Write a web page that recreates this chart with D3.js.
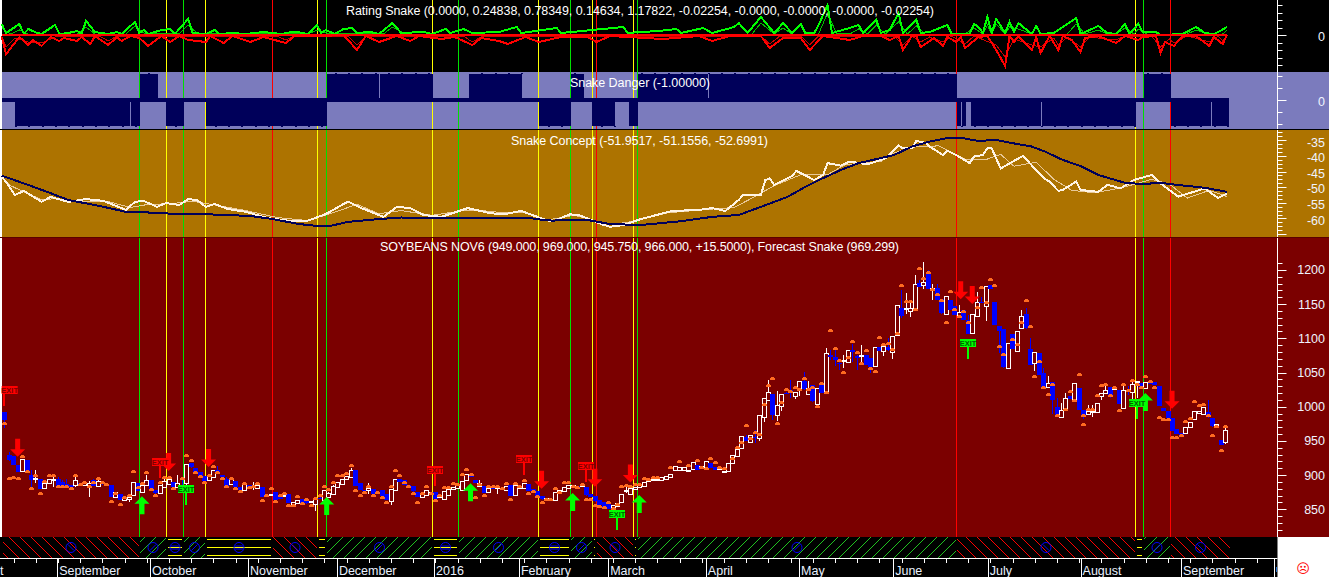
<!DOCTYPE html>
<html>
<head>
<meta charset="utf-8">
<script src="https://cdn.jsdelivr.net/npm/d3@7/dist/d3.min.js"></script>
<style>
  html, body { margin: 0; padding: 0; background: #000; overflow: hidden; }
  svg { display: block; }
  text { font-family: "Liberation Sans", Arial, sans-serif; }
</style>
</head>
<body>
<div id="chart"></div>
<script>
//Width and height
var width = 1329;
var height = 577;

// Daily bars, ten to a line
var opens = [
  992,929,928,915,906,922,900,895,894,881,
  889,894,894,890,887,885,886,888,885,886,
  893,885,888,887,886,868,873,864,865,871,
  889,876,886,893,878,874,882,888,890,883,
  885,888,917,911,905,899,893,898,908,900,
  895,886,891,883,878,885,882,880,883,871,
  870,875,868,869,873,857,860,865,863,860,
  857,867,864,868,872,883,887,893,898,908,
  888,878,878,880,873,878,872,861,878,895,
  893,885,884,875,868,870,874,875,867,866,
  871,880,881,879,892,901,893,883,884,875,
  883,880,881,878,885,870,882,881,887,880,
  877,869,866,864,863,876,876,881,883,884,
  884,882,873,869,863,860,861,851,855,861,
  876,872,880,883,884,891,892,893,893,895,
  897,907,908,908,906,909,915,910,911,917,
  912,908,905,907,919,928,939,956,949,955,
  955,984,1009,1019,987,1001,1020,1024,1016,1024,
  1037,1018,1031,1004,1033,1020,1075,1073,1064,1068,
  1066,1083,1074,1075,1075,1071,1060,1087,1082,1087,
  1080,1104,1145,1143,1139,1143,1181,1177,1195,1172,
  1174,1157,1136,1156,1147,1135,1141,1127,1107,1133,
  1153,1148,1178,1153,1118,1113,1057,1107,1082,1115,
  1135,1084,1064,1078,1049,1028,1036,999,985,995,
  1016,1007,1028,995,989,993,993,1015,1019,1029,
  1027,1025,999,1025,1022,1036,1034,1027,1036,1036,
  1030,998,994,984,968,961,962,970,983,991,
  990,992,983,973,952,949
];
var closes = [
  980,921,915,905,923,905,893,896,880,888,
  895,895,884,884,884,882,893,884,888,889,
  884,892,886,884,868,876,864,868,868,890,
  878,886,893,879,873,886,891,895,882,889,
  883,916,911,905,899,892,900,908,903,897,
  885,894,882,878,887,881,884,885,869,870,
  872,864,865,871,860,861,864,859,858,862,
  865,866,878,874,884,890,895,898,908,884,
  878,877,881,872,875,869,863,879,894,890,
  885,881,876,868,873,878,876,865,869,877,
  880,883,885,892,901,897,888,888,874,881,
  880,882,878,884,869,885,883,888,877,876,
  869,864,867,865,875,878,882,885,885,883,
  885,870,869,861,856,853,851,856,859,872,
  878,881,883,886,890,893,894,895,897,899,
  902,913,912,912,908,919,907,913,921,910,
  907,910,906,918,930,938,957,950,959,953,
  988,1012,1021,988,1002,1019,1018,1019,1022,1037,
  1025,1027,1007,1028,1020,1078,1072,1068,1062,1069,
  1083,1080,1071,1076,1061,1058,1088,1081,1089,1082,
  1103,1148,1134,1144,1144,1180,1175,1182,1172,1173,
  1156,1136,1162,1141,1134,1139,1127,1106,1135,1153,
  1151,1177,1172,1119,1110,1057,1093,1085,1111,1132,
  1114,1061,1080,1046,1028,1034,1010,985,995,1012,
  1011,1034,996,987,994,994,1006,1020,1024,1017,
  1028,1005,1025,1023,1033,1037,1028,1036,1033,1032,
  1001,993,984,965,961,958,971,978,994,994,
  1000,984,971,975,945,966
];
var highs = [
  992,934,928,915,923,922,908,908,894,889,
  895,898,897,893,894,885,897,888,889,891,
  895,896,888,887,886,876,873,868,870,890,
  889,886,900,893,878,886,895,898,890,900,
  895,916,917,911,905,899,900,908,913,900,
  897,894,891,883,887,885,890,885,883,871,
  872,875,868,876,873,861,864,865,863,862,
  866,868,878,876,886,890,895,898,911,908,
  888,878,888,880,875,878,872,879,894,895,
  893,885,884,875,873,878,876,875,869,877,
  880,883,885,892,901,901,893,893,884,881,
  883,883,881,884,885,885,883,888,887,880,
  877,869,867,865,875,878,882,885,886,884,
  885,882,873,869,863,860,861,856,859,872,
  883,881,883,888,890,893,896,895,897,899,
  902,913,912,912,908,919,915,913,921,917,
  912,910,906,918,930,938,957,958,959,966,
  988,1012,1039,1019,1023,1019,1021,1039,1022,1037,
  1051,1037,1031,1028,1033,1086,1083,1084,1066,1075,
  1083,1092,1076,1090,1075,1071,1088,1087,1089,1100,
  1103,1148,1171,1166,1155,1193,1185,1211,1200,1180,
  1180,1157,1162,1156,1147,1148,1141,1134,1135,1168,
  1160,1177,1178,1153,1118,1113,1093,1107,1111,1142,
  1145,1100,1080,1078,1057,1045,1036,1012,1005,1020,
  1016,1034,1028,995,1003,1003,1006,1020,1033,1029,
  1028,1025,1033,1030,1038,1038,1034,1036,1036,1036,
  1030,998,994,984,968,961,971,978,994,994,
  1000,1010,983,975,952,969
];
var lows = [
  969,921,915,905,906,905,881,889,880,881,
  889,883,884,884,881,881,883,884,884,868,
  884,885,886,884,868,868,864,864,860,871,
  878,876,885,879,872,874,882,888,882,883,
  880,884,911,905,899,892,893,898,903,897,
  885,886,882,878,878,881,878,880,869,870,
  870,864,865,869,860,857,860,859,858,860,
  847,866,864,868,872,883,887,893,898,884,
  878,877,873,872,873,869,863,856,878,890,
  885,881,876,868,868,870,874,865,867,864,
  871,880,881,879,892,897,888,883,874,875,
  880,873,878,878,869,870,882,881,877,876,
  869,864,866,864,863,876,876,881,883,883,
  884,870,869,861,856,853,851,851,855,861,
  874,872,880,883,884,891,892,893,893,895,
  897,907,908,908,906,909,907,910,911,910,
  907,908,905,907,919,928,939,950,949,947,
  950,978,1008,980,979,994,1018,1012,1011,1015,
  1025,1018,1007,1004,1020,1020,1068,1060,1054,1056,
  1066,1066,1054,1066,1061,1050,1058,1081,1074,1082,
  1070,1104,1130,1135,1131,1143,1175,1172,1172,1156,
  1156,1136,1136,1141,1134,1130,1127,1106,1107,1133,
  1151,1126,1172,1119,1078,1057,1056,1085,1082,1113,
  1114,1061,1052,1046,1028,1028,990,985,985,995,
  1011,1007,996,982,989,985,993,1010,1019,1012,
  1027,1005,999,1017,1010,1012,1028,1027,1033,1032,
  1001,993,984,965,961,958,962,970,983,991,
  990,984,971,973,945,945.75
];

// Forecast dots: [bar, price]
var forecastDots = [
  [0,974],[1,894],[2,896],[3,894],[4,926],[5,904],[6,879],[7,898],[8,872],[9,890],[10,898],[11,898],[12,882],[13,882],[14,882],
  [15,879],[16,899],[17,885],[18,888],[19,883],[20,889],[21,895],[22,889],[23,885],[24,860],[25,873],[26,857],[27,866],[28,869],
  [29,904],[30,881],[31,887],[32,903],[33,878],[34,869],[35,889],[36,896],[37,896],[38,879],[40,894],[41,928],[42,920],[43,903],
  [44,897],[45,888],[46,899],[47,912],[48,903],[49,894],[50,882],[51,894],[52,880],[53,875],[54,887],[55,881],[56,882],[57,887],
  [58,862],[59,870],[60,880],[61,860],[62,869],[63,872],[64,855],[65,855],[66,868],[67,858],[68,863],[69,855],[70,865],[71,869],
  [72,883],[73,878],[74,888],[75,898],[76,898],[77,901],[78,913],[79,877],[80,869],[81,874],[82,883],[83,870],[84,874],[85,866],
  [86,859],[87,882],[88,906],[89,898],[90,888],[91,882],[92,872],[93,859],[94,872],[95,882],[96,873],[97,862],[98,870],[99,881],
  [100,881],[101,887],[102,886],[103,900],[104,907],[105,900],[106,866],[107,886],[108,869],[109,883],[110,882],[111,882],[112,880],
  [113,887],[114,864],[115,887],[116,883],[117,892],[118,873],[119,875],[120,868],[121,859],[122,864],[123,863],[124,880],[125,874],
  [126,888],[127,888],[128,882],[129,881],[130,886],[131,864],[132,864],[133,855],[134,853],[135,852],[136,859],[137,851],[138,856],
  [139,882],[140,884],[141,882],[142,886],[143,886],[144,894],[145,893],[146,896],[147,896],[150,910],[152,919],[154,914],[156,921],
  [157,910],[158,909],[159,924],[160,917],[161,910],[162,909],[164,923],[165,939],[166,947],[167,972],[168,953],[169,962],[170,959],
  [171,1003],[172,1030],[173,1040],[174,974],[175,1006],[176,1025],[177,1021],[178,1028],[179,1024],[180,1041],[181,1024],[182,1027],
  [183,999],[184,1033],[185,1020],[186,1111],[187,1085],[188,1067],[189,1049],[190,1071],[191,1094],[192,1078],[193,1063],[194,1081],
  [195,1055],[196,1051],[197,1101],[198,1090],[199,1091],[200,1083],[201,1107],[202,1176],[203,1153],[204,1153],[205,1141],[206,1202],
  [207,1187],[208,1195],[209,1170],[210,1164],[211,1155],[212,1122],[213,1167],[214,1142],[215,1131],[216,1139],[217,1122],[219,1145],
  [220,1173],[221,1151],[222,1185],[223,1177],[224,1088],[225,1075],[227,1097],[228,1090],[229,1122],[230,1154],[231,1117],[232,1043],
  [233,1066],[234,1028],[235,1017],[236,1031],[237,987],[239,995],[240,1022],[241,1009],[242,1046],[243,987],[243,973],[244,995],
  [245,995],[246,1015],[247,1030],[248,1032],[249,1016],[250,1027],[251,994],[252,1032],[253,1023],[254,1037],[255,1032],[256,1027],
  [257,1043],[258,1036],[259,1028],[260,983],[261,980],[262,980],[263,954],[264,954],[265,957],[266,977],[267,982],[268,1007],
  [269,1001],[270,1003],[271,986],[272,957],[273,970],[274,935],[275,971]
];

// Rating Snake: [bar, value]
var ratingGreen = [
  [0,1.1],[1,.2],[4,1.1],[5,.1],[6,.6],[8,.2],[9,.1],[12,1],[13,.1],[15,.2],[17,.4],[18,.1],[19,1.4],[21,.3],[24,.1],[26,.3],[27,.1],
  [30,1.3],[31,.2],[32,.5],[33,.1],[36,.5],[38,.6],[39,.1],[42,1.6],[43,.2],[46,.1],[48,.5],[49,.1],[52,.2],[55,.1],[59,.3],[63,.1],
  [66,.35],[69,.1],[71,1],[72,.2],[73,.5],[75,.1],[77,.6],[79,.7],[80,.2],[83,.3],[85,.1],[88,1.2],[90,.2],[95,.3],[97,.1],[100,.6],
  [101,.2],[104,.6],[106,.2],[112,.3],[116,.8],[117,.2],[125,.7],[126,.2],[140,.8],[141,.2],[144,.3],[148,.4],[152,.6],[153,.2],[158,.7],
  [160,.2],[165,.8],[166,1.2],[168,.2],[171,1.8],[174,.2],[176,1.2],[178,.2],[180,1.1],[181,.2],[183,.2],[184,1],[186,3],[187,.2],[191,.7],
  [193,1],[194,.2],[197,1.5],[198,.2],[200,.5],[202,2.2],[203,.2],[206,1.5],[207,.2],[209,.3],[213,1],[214,.1],[218,.1],[219,1.1],[220,.8],
  [221,.2],[222,1.8],[223,.2],[224,1.6],[226,.2],[227,1.3],[228,.3],[229,1.2],[232,.1],[233,.9],[234,.1],[237,.2],[242,1.7],[243,.1],
  [247,.9],[249,.2],[251,.1],[253,1.1],[254,.1],[256,1.1],[257,.3],[260,.3],[261,0],[266,.1],[269,.8],[271,.2],[273,.1],[274,.3],[276,.8]
];
var ratingGreenThin = [
  [0,.7],[2,.1],[4,.5],[6,.1],[17,.1],[19,.8],[21,.1],[28,.1],[30,.9],[32,.2],[40,.1],[42,1],[44,.2],[69,.1],[71,.5],[73,.2],[86,.1],[88,.8],[91,.1],
  [169,.1],[171,1.2],[174,.1],[176,.7],[178,.1],[184,.1],[186,2.2],[188,.2],[191,.1],[193,.6],[195,.1],[197,1],[199,.1],[202,1.3],[204,.1],[206,.9],[208,.1],
  [217,.1],[219,.7],[221,.1],[222,1],[223,.1],[224,1.1],[226,.1],[227,.8],[229,.6],[232,.1],[240,.1],[242,1.1],[244,.1],[247,.5],[249,.1],[251,.1],[253,.7],
  [255,.1],[256,.6],[258,.1],[267,.1],[269,.5],[272,.1],[275,.1],[276,.5]
];
var ratingRed = [
  [0,-.2],[1,-1.9],[4,-.2],[6,-1],[7,-.5],[9,-1.1],[11,-.2],[13,-.6],[14,-.3],[17,-.6],[18,-.2],[20,-.9],[21,-.1],[24,-1],[26,-.2],[27,-.6],
  [29,-.1],[31,-.3],[33,-1.1],[36,-.1],[38,-.7],[40,-.1],[42,-.5],[46,-.7],[47,-.1],[50,-.8],[52,-.1],[56,-.7],[59,-.2],[64,-.8],[66,-.1],
  [72,-.1],[77,0],[80,-1.5],[82,-.1],[85,-.7],[89,-.1],[92,-.6],[94,-.1],[99,-.4],[102,-.2],[106,-1],[108,-.3],[112,-.6],[114,-.9],[118,-.2],
  [121,-.7],[126,-.2],[132,-.2],[134,-.7],[137,-.1],[149,-.4],[157,-.1],[160,-.6],[164,-.1],[171,-.1],[173,-1.3],[176,-.3],[180,-.3],[182,-1.5],
  [185,-.1],[191,-.5],[194,-.1],[198,-.1],[200,-.5],[202,-.1],[203,-1.5],[205,-.1],[206,-.1],[207,-1.2],[210,-.3],[212,-1.1],[213,-.2],[215,-.7],
  [216,-.2],[217,-1.3],[220,-.2],[222,-.1],[224,-1.5],[226,-3.1],[227,-.1],[228,-.7],[229,-.1],[232,-1.5],[233,-.2],[234,-1.8],[236,-.1],[238,-1.5],
  [239,-.1],[241,-.5],[243,-1.7],[244,-.3],[247,-.1],[251,-.8],[253,-.1],[256,-.5],[257,-.2],[260,-.1],[261,-1.8],[262,-.7],[264,-1.1],[266,-.1],
  [269,-.1],[272,-1.1],[273,-.2],[275,-.9],[276,0]
];
var ratingRedThin = [
  [0,-.1],[1,-1.2],[3,-.3],[6,-.7],[9,-.8],[12,-.2],[22,-.1],[24,-.6],[26,-.1],[62,-.1],[64,-.5],[66,-.1],[78,-.1],[80,-1],[82,-.1],[104,-.1],[106,-.7],[108,-.2],
  [171,-.1],[173,-.9],[175,-.2],[180,-.1],[182,-1],[184,-.1],[201,-.1],[203,-1],[205,-.1],[207,-.7],[209,-.2],[212,-.7],[214,-.1],[215,-.4],[217,-.9],[219,-.1],
  [224,-1],[226,-2.2],[228,-.4],[232,-1],[234,-1.2],[237,-.3],[238,-1],[240,-.2],[243,-1.2],[245,-.2],[251,-.5],[253,-.1],[259,-.1],[261,-1.2],[263,-.4],[264,-.8],
  [267,-.1],[272,-.7],[274,-.1],[275,-.6],[276,0]
];

// Snake Danger runs: [first bar, last bar, side]
var dangerRuns = [
  [3,28.85,-1],[29.05,31.2,-1],[31.2,35.2,1],[37,41.1,-1],[46,73.3,-1],[73.3,85,1],[85.2,97.1,1],[105.3,117.2,1],[121,128.2,-1],[128.2,131.2,1],
  [133,138.1,-1],[141.3,143.3,-1],[143.3,159.1,1],[159.3,215.1,1],[215.1,216.1,-1],[216.3,217.2,-1],[218.3,234.1,-1],[234.3,255.4,-1],
  [257.2,263.3,1],[263.3,272.3,-1],[272.5,276.4,-1]
];

// Snake Concept: [bar, value]
var conceptNavy = [
  [0,-46.3],[6,-49.3],[11,-51.9],[15,-54.1],[22,-56],[28,-57.9],[33,-58.1],[40,-58.6],[45,-58.6],[56,-59.2],[61,-60.2],[67,-61.8],[71,-62.4],[74,-62.4],
  [78,-61.1],[85,-60.2],[90,-59.7],[96,-59.9],[105,-59.9],[119,-59.9],[122,-60.5],[124,-60.7],[128,-60.5],[132,-60.5],[137,-61.8],[144,-62.1],[153,-60.9],
  [160,-59.5],[166,-58.9],[171,-56.3],[177,-53.1],[181,-49.9],[185,-47.1],[189,-44.5],[193,-42.3],[198,-40.7],[201,-39.7],[205,-37],[209,-35.4],[213,-34.3],
  [216,-34.2],[220,-35.2],[224,-34.9],[228,-36],[232,-37],[235,-38.6],[239,-41.3],[243,-43.2],[247,-46.1],[253,-48.6],[257,-49],[261,-48.6],[265,-49.3],
  [271,-50.2],[276,-51.5]
];
var conceptWhite = [
  [0,-46.7],[1,-48.3],[3,-52.5],[5,-51.2],[9,-54.7],[11,-53.1],[12,-53.5],[15,-54.7],[19,-53.8],[23,-54.4],[28,-57.3],[30,-54.7],[32,-54.4],[35,-56.3],
  [37,-55.1],[40,-55.7],[42,-53.8],[44,-54.1],[46,-56.3],[48,-55.4],[51,-57],[55,-57.9],[60,-59.9],[65,-60.8],[69,-60.7],[73,-58.6],[78,-54.6],[81,-56.7],
  [86,-59.5],[89,-56.3],[92,-56.7],[95,-58.9],[99,-59.5],[105,-56.7],[110,-58.3],[113,-58.7],[117,-57.6],[122,-60.2],[124,-61],[128,-58.7],[130,-58.9],
  [135,-61.8],[137,-62.7],[140,-62.1],[144,-60.2],[151,-57.6],[157,-57.3],[160,-56.7],[163,-57.6],[166,-54.1],[167,-52.5],[171,-52.5],[172,-47.7],[173,-47.2],
  [174,-49.3],[178,-46.4],[179,-44.8],[183,-47.7],[185,-46.1],[186,-42.3],[189,-43.1],[191,-41.8],[195,-42.7],[198,-41.3],[199,-40.8],[202,-36.7],[203,-37.6],
  [205,-37.6],[206,-35.2],[208,-35.8],[209,-37],[212,-39.7],[213,-38.3],[215,-39.7],[218,-42.3],[219,-40.2],[221,-39.7],[222,-37.6],[223,-37.6],[225,-44],
  [227,-42.4],[230,-40],[233,-44.5],[235,-47.4],[236,-48.2],[238,-51.2],[239,-50.9],[242,-48.2],[243,-50.9],[247,-51.5],[249,-49.3],[250,-49.6],[252,-50.4],
  [255,-47.7],[259,-46.1],[261,-48.8],[264,-52],[265,-53],[271,-50.4],[273,-52.5],[274,-53.4],[276,-52]
];
var conceptTan = [
  [0,-47],[2,-49.5],[5,-51.5],[9,-54],[12,-53.7],[17,-54.5],[24,-54.6],[29,-56.5],[33,-55.5],[38,-55.3],[43,-54.5],[48,-55.7],[55,-57.5],[62,-59.7],[69,-60.7],
  [75,-58],[80,-55.5],[85,-58.5],[90,-57.5],[97,-59],[104,-57.5],[107,-57.3],[113,-58.2],[118,-58],[123,-60.5],[129,-59],[137,-62],[142,-61],[150,-58.2],
  [160,-57],[165,-56.5],[169,-53.5],[174,-49.5],[180,-46],[186,-46],[190,-42.8],[198,-41.8],[201,-39],[206,-37],[211,-36.8],[217,-41],[222,-41],[225,-39.5],
  [228,-43.3],[233,-42],[237,-47.5],[241,-51],[246,-51.8],[250,-50.8],[254,-49.5],[259,-47.5],[263,-49],[267,-53.5],[272,-51],[276,-53]
];

// Signals: vertical lines, then the state strip that runs between them
var signalBars = [31,37,40.9,45.8,60.9,71,73,96.9,102.8,120.8,128,133,133.9,142.2,143.1,215,255.2,257,263.2];
var signalKinds = ['g','y','g','y','r','y','g','y','g','y','g','y','r','y','g','r','y','g','r'];

var sellArrows = [[3,927],[37,906],[46,912],[121,880],[133,883],[141,889],[215.4,1157],[218,1150],[263,997]];
var buyArrows = [[31,869],[72.6,868],[105,888],[128,874],[143,871],[257,1020]];
var redExits = [[0,1001],[35,896],[97,884],[117,900],[131,890]];
var greenExits = [[41,856],[138,820],[217.1,1070],[255,982]];

// Time axis ('t' is the tail of the month that scrolled off the left edge)
var monthNames = ['t','September','October','November','December','2016','February','March','April','May','June','July','August','September'];
var monthBars = [-0.8,12.5,33.4,55.5,75.5,97.4,116.5,136.6,158.6,179.6,200.8,222.1,243,265.6,286.6];

// Price axis labels and others
var priceLabels = [850,900,950,1000,1050,1100,1150,1200];
var conceptLabels = [-35,-40,-45,-50,-55,-60];

var titleRating = 'Rating Snake (0.0000, 0.24838, 0.78349, 0.14634, 1.17822, -0.02254, -0.0000, -0.0000, -0.0000, -0.02254)';
var titleDanger = 'Snake Danger (-1.00000)';
var titleConcept = 'Snake Concept (-51.9517, -51.1556, -52.6991)';
var titlePrice = 'SOYBEANS NOV6 (949.000, 969.000, 945.750, 966.000, +15.5000), Forecast Snake (969.299)';

var signalColors = { g: '#00E000', y: '#FFFF00', r: '#FF0000' };
var axisX = 1277.5;

// Setting up scalers
var xBar = d3.scaleLinear().domain([0, 276]).range([1.66, 1227.1]);
var yRating = d3.scaleLinear().domain([-3.7, 3.5]).range([72, 0]);
var yDanger = d3.scaleLinear().domain([-1, 1]).range([127, 73]);
var yConcept = d3.scaleLinear().domain([-65, -30]).range([234.05, 124.675]);
var yPrice = d3.scaleLinear().domain([800, 1200]).range([543.5, 269.9]);

function candleX(i) { return Math.round(xBar(i) + 2.67); }

//Create SVG element
var svg = d3.select('#chart')
  .append('svg')
  .attr('width', width)
  .attr('height', height);

var defs = svg.append('defs');
function hatch(id, d, color) {
  defs.append('pattern')
    .attr('id', id)
    .attr('patternUnits', 'userSpaceOnUse')
    .attr('width', 11)
    .attr('height', 11)
    .append('path')
    .attr('d', d)
    .attr('stroke', color)
    .attr('stroke-width', 1)
    .attr('shape-rendering', 'crispEdges');
}
hatch('hatchRed', 'M0,0L11,11', '#FF0000');
hatch('hatchGreen', 'M0,11L11,0', '#20C020');

// Panel backgrounds
var panels = [
  { y: 0, h: 72, fill: '#000000' },
  { y: 72, h: 57, fill: '#7B7BBD' },
  { y: 129, h: 108, fill: '#AD7300' },
  { y: 237, h: 300, fill: '#7B0000' }
];
svg.selectAll('rect.panel')
  .data(panels)
  .enter()
  .append('rect')
  .attr('class', 'panel')
  .attr('x', 0)
  .attr('y', function (d) { return d.y; })
  .attr('width', width)
  .attr('height', function (d) { return d.h; })
  .attr('fill', function (d) { return d.fill; });
svg.append('rect').attr('x', 0).attr('y', 0).attr('width', 2).attr('height', 537).attr('fill', '#fff');

// Vertical signal lines
svg.selectAll('line.signal')
  .data(signalBars)
  .enter()
  .append('line')
  .attr('class', 'signal')
  .attr('x1', function (d) { return Math.round(xBar(d)) + 0.5; })
  .attr('x2', function (d) { return Math.round(xBar(d)) + 0.5; })
  .attr('y1', 0)
  .attr('y2', 537)
  .attr('stroke', function (d, i) { return signalColors[signalKinds[i]]; })
  .attr('stroke-width', 1);

// Line helper for the [bar, value] series
function drawLine(data, yScale, color, w) {
  svg.append('path')
    .attr('d', d3.line()
      .x(function (d) { return xBar(d[0]); })
      .y(function (d) { return yScale(d[1]); })(data))
    .attr('fill', 'none')
    .attr('stroke', color)
    .attr('stroke-width', w)
    .attr('shape-rendering', 'crispEdges');
}

// Rating Snake
drawLine(ratingGreenThin, yRating, '#00C000', 1);
drawLine(ratingRedThin, yRating, '#D00000', 1);
drawLine(ratingGreen, yRating, '#00FF00', 2);
drawLine(ratingRed, yRating, '#FF0000', 2);
svg.append('line')
  .attr('x1', xBar(0)).attr('x2', xBar(276))
  .attr('y1', yRating(0)).attr('y2', yRating(0))
  .attr('stroke', '#FF0000')
  .attr('stroke-width', 2)
  .attr('shape-rendering', 'crispEdges');

// Snake Danger
svg.append('rect')
  .attr('x', xBar(0))
  .attr('width', xBar(276.4) - xBar(0))
  .attr('y', yDanger(0.07))
  .attr('height', yDanger(-0.07) - yDanger(0.07))
  .attr('fill', '#00005A')
  .attr('shape-rendering', 'crispEdges');
svg.selectAll('rect.danger')
  .data(dangerRuns)
  .enter()
  .append('rect')
  .attr('class', 'danger')
  .attr('x', function (d) { return xBar(d[0]); })
  .attr('width', function (d) { return xBar(d[1]) - xBar(d[0]); })
  .attr('y', function (d) { return d[2] > 0 ? yDanger(0.96) : yDanger(0.07); })
  .attr('height', function (d) { return d[2] > 0 ? yDanger(-0.07) - yDanger(0.96) : yDanger(-0.96) - yDanger(0.07); })
  .attr('fill', '#00005A')
  .attr('shape-rendering', 'crispEdges');
// little teeth along the outer edge of each run, one every third bar
dangerRuns.forEach(function (r) {
  d3.range(Math.ceil(r[0] / 3) * 3, r[1], 3).forEach(function (b) {
    svg.append('rect')
      .attr('x', Math.round(xBar(b)))
      .attr('width', 2)
      .attr('y', r[2] > 0 ? yDanger(1) : yDanger(-0.96))
      .attr('height', yDanger(-1) - yDanger(-0.96))
      .attr('fill', '#00005A')
      .attr('shape-rendering', 'crispEdges');
  });
});

// Snake Concept
drawLine(conceptTan, yConcept, '#E8C898', 1);
drawLine(conceptWhite, yConcept, '#FFF4E4', 2);
drawLine(conceptNavy, yConcept, '#00005A', 2);

// Candles
var bars = d3.range(opens.length);
svg.selectAll('line.wick')
  .data(bars)
  .enter()
  .append('line')
  .attr('class', 'wick')
  .attr('x1', function (i) { return candleX(i) + 0.5; })
  .attr('x2', function (i) { return candleX(i) + 0.5; })
  .attr('y1', function (i) { return Math.round(yPrice(highs[i])); })
  .attr('y2', function (i) { return Math.round(yPrice(lows[i])); })
  .attr('stroke', function (i) { return closes[i] < opens[i] ? '#0000FF' : '#FFFFFF'; })
  .attr('stroke-width', 1);
svg.selectAll('rect.body')
  .data(bars)
  .enter()
  .append('rect')
  .attr('class', 'body')
  .attr('x', function (i) { return candleX(i) - (closes[i] < opens[i] ? 2 : 1.5); })
  .attr('width', function (i) { return closes[i] < opens[i] ? 5 : 4; })
  .attr('y', function (i) { return Math.round(yPrice(Math.max(opens[i], closes[i]))) + (closes[i] < opens[i] ? 0 : 0.5); })
  .attr('height', function (i) { return Math.max(1, Math.round(yPrice(Math.min(opens[i], closes[i])) - yPrice(Math.max(opens[i], closes[i])))); })
  .attr('fill', function (i) { return closes[i] < opens[i] ? '#0000FF' : '#7B0000'; })
  .attr('stroke', function (i) { return closes[i] < opens[i] ? 'none' : '#FFFFFF'; })
  .attr('stroke-width', 1);

// Forecast dots
svg.selectAll('path.dot')
  .data(forecastDots)
  .enter()
  .append('path')
  .attr('class', 'dot')
  .attr('transform', function (d) { return 'translate(' + candleX(d[0]) + ',' + Math.round(yPrice(d[1])) + ')'; })
  .attr('d', 'M-2,-1H-1V-2H2V-1H3V1H-2Z')
  .attr('fill', '#FF6A20');

// Arrows
svg.selectAll('path.sell')
  .data(sellArrows)
  .enter()
  .append('path')
  .attr('class', 'sell')
  .attr('transform', function (d) { return 'translate(' + (xBar(d[0]) + 2.67) + ',' + yPrice(d[1]) + ')'; })
  .attr('d', 'M0,0L-7.5,-7.5H-2.5V-18H2.5V-7.5H7.5Z')
  .attr('fill', '#FF0000');
svg.selectAll('path.buy')
  .data(buyArrows)
  .enter()
  .append('path')
  .attr('class', 'buy')
  .attr('transform', function (d) { return 'translate(' + (xBar(d[0]) + 2.67) + ',' + yPrice(d[1]) + ')'; })
  .attr('d', 'M0,0L-7.5,7.5H-2.5V18H2.5V7.5H7.5Z')
  .attr('fill', '#00FF00');

// Exit flags
function drawExits(data, color, ink) {
  var flag = svg.selectAll(null)
    .data(data)
    .enter()
    .append('g')
    .attr('transform', function (d) { return 'translate(' + Math.round(xBar(d[0]) + 2.67) + ',' + Math.round(yPrice(d[1])) + ')'; });
  flag.append('rect').attr('x', -1).attr('y', -19).attr('width', 2).attr('height', 19).attr('fill', color);
  // the first flag sits against the left edge, so its box is pushed right
  var shift = function (d) { return Math.max(0, 10 - (xBar(d[0]) + 2.67)); };
  flag.append('rect')
    .attr('x', function (d) { return -8 + shift(d); })
    .attr('y', -20)
    .attr('width', 16)
    .attr('height', 8)
    .attr('fill', color);
  flag.append('text')
    .attr('x', function (d) { return shift(d); })
    .attr('y', -13)
    .attr('text-anchor', 'middle')
    .attr('font-size', 7.5)
    .attr('font-weight', 'bold')
    .attr('fill', ink)
    .text('EXIT');
}
drawExits(redExits, '#FF0000', '#7B0000');
drawExits(greenExits, '#00FF00', '#006000');

// State strip
svg.append('rect').attr('x', 1).attr('y', 537).attr('width', axisX - 1).attr('height', 21).attr('fill', '#000');
var stripEdges = [0].concat(signalBars, [276.7]);
var stripStates = ['r'].concat(signalKinds);
var stripSegs = d3.pairs(stripEdges).map(function (p, i) { return { a: p[0], b: p[1], k: stripStates[i] }; });
stripSegs.forEach(function (s) {
  var x0 = Math.round(xBar(s.a)) + 1;
  var x1 = Math.round(xBar(s.b));
  if (s.k === 'y') {
    [539.5, 547.5, 555.5].forEach(function (y) {
      svg.append('line').attr('x1', x0 + 1).attr('x2', x1 - 1).attr('y1', y).attr('y2', y)
        .attr('stroke', '#FFFF00').attr('stroke-width', 1);
    });
  } else {
    svg.append('rect').attr('x', x0).attr('y', 537).attr('width', x1 - x0).attr('height', 21)
      .attr('fill', s.k === 'r' ? 'url(#hatchRed)' : 'url(#hatchGreen)');
  }
  if (x1 - x0 > 14) {
    var cx = (x0 + x1) / 2;
    svg.append('circle').attr('cx', cx).attr('cy', 547.5).attr('r', 5).attr('fill', 'none').attr('stroke', '#0000FF').attr('stroke-width', 1);
    if (s.k === 'y') {
      svg.append('path').attr('d', 'M' + (cx - 4) + ',546H' + (cx + 4) + 'M' + (cx - 4) + ',549H' + (cx + 4)).attr('stroke', '#0000FF').attr('fill', 'none');
    } else {
      var dy = s.k === 'r' ? 3 : -3;
      svg.append('path').attr('d', 'M' + (cx - 3) + ',' + (547.5 - dy) + 'L' + (cx + 3) + ',' + (547.5 + dy)).attr('stroke', '#0000FF').attr('fill', 'none');
    }
  }
});

// Time axis
svg.append('rect').attr('x', 0).attr('y', 558).attr('width', axisX).attr('height', 19).attr('fill', '#000');
svg.append('rect').attr('x', 0).attr('y', 558).attr('width', axisX).attr('height', 1).attr('fill', '#fff');
svg.selectAll('line.week')
  .data(d3.range(2.7, 286, 5))
  .enter()
  .append('line')
  .attr('class', 'week')
  .attr('x1', function (d) { return Math.round(xBar(d)) + 0.5; })
  .attr('x2', function (d) { return Math.round(xBar(d)) + 0.5; })
  .attr('y1', 558)
  .attr('y2', 563)
  .attr('stroke', '#fff');
svg.selectAll('line.month')
  .data(monthBars)
  .enter()
  .append('line')
  .attr('class', 'month')
  .attr('x1', function (d) { return Math.round(xBar(d)) + 0.5; })
  .attr('x2', function (d) { return Math.round(xBar(d)) + 0.5; })
  .attr('y1', 558)
  .attr('y2', 577)
  .attr('stroke', '#fff');
svg.selectAll('text.month')
  .data(monthNames)
  .enter()
  .append('text')
  .attr('class', 'month')
  .attr('x', function (d, i) { return xBar(monthBars[i]) + 2; })
  .attr('y', 575)
  .attr('font-size', 12.5)
  .attr('fill', '#EAF2FF')
  .text(function (d) { return d; });

// Bottom right corner
svg.append('rect').attr('x', axisX).attr('y', 537).attr('width', width - axisX).attr('height', 40).attr('fill', '#fff');
svg.append('rect').attr('x', axisX - 1.5).attr('y', 567).attr('width', 1).attr('height', 5).attr('fill', '#2070D0');
svg.append('text')
  .attr('x', 1303)
  .attr('y', 573)
  .attr('text-anchor', 'middle')
  .attr('font-size', 13)
  .attr('fill', '#FF0000')
  .style('font-family', '"DejaVu Sans"')
  .text('\u2639');

// Right axes
svg.append('line').attr('x1', axisX).attr('x2', axisX).attr('y1', 0).attr('y2', 537).attr('stroke', '#fff');
svg.selectAll('rect.sep')
  .data([129, 237])
  .enter()
  .append('rect')
  .attr('class', 'sep')
  .attr('x', 0)
  .attr('y', function (d) { return d; })
  .attr('width', width)
  .attr('height', 1)
  .attr('fill', function (d) { return d === 129 ? '#000' : '#5A0000'; });

function ticks(values, yScale, isMajor, yMin, yMax) {
  values.forEach(function (v) {
    var y = Math.round(yScale(v)) + 0.5;
    if (y < yMin || y > yMax) return;
    svg.append('line')
      .attr('x1', axisX)
      .attr('x2', axisX + (isMajor(v) ? 9 : 5))
      .attr('y1', y)
      .attr('y2', y)
      .attr('stroke', '#fff');
  });
}
ticks(d3.range(-3.75, 3.76, 0.75), yRating, function (v) { return v === 0; }, 1, 71);
ticks([-0.9, -0.45, 0, 0.45, 0.9], yDanger, function (v) { return v === 0; }, 73, 128);
ticks(d3.range(-65, -29, 1.25), yConcept, function (v) { return v % 5 === 0; }, 131, 236);
ticks(d3.range(800, 1211, 10), yPrice, function (v) { return v % 50 === 0; }, 238, 536);

function axisLabels(values, yScale, nudge) {
  svg.selectAll(null)
    .data(values)
    .enter()
    .append('text')
    .attr('x', 1325)
    .attr('y', function (d) { return yScale(d) + nudge; })
    .attr('text-anchor', 'end')
    .attr('font-size', 12.5)
    .attr('fill', '#F0F4FF')
    .text(function (d) { return d; });
}
axisLabels([0], yRating, 6);
axisLabels([0], yDanger, 6);
axisLabels(conceptLabels, yConcept, 6.2);
axisLabels(priceLabels, yPrice, 4.5);

// Titles
function title(text, x, y, len) {
  svg.append('text')
    .attr('x', x)
    .attr('y', y)
    .attr('font-size', 12.5)
    .attr('fill', '#FFFFFF')
    .attr('textLength', len)
    .attr('lengthAdjust', 'spacing')
    .text(text);
}
title(titleRating, 346, 15, 588);
title(titleDanger, 570, 87, 140);
title(titleConcept, 511, 145, 257);
title(titlePrice, 380, 251, 519);
</script>
</body>
</html>
